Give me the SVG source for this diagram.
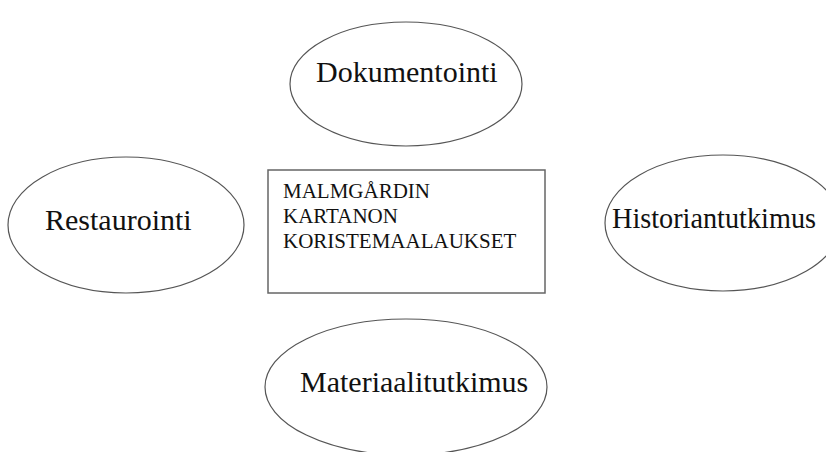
<svg xmlns="http://www.w3.org/2000/svg" width="826" height="452" viewBox="0 0 826 452">
<style>
.n{fill:#fff;stroke:#555;stroke-width:1.2}
.b{fill:#fff;stroke:#666;stroke-width:1.5}
.t{font-family:"Liberation Serif","Times New Roman",serif;fill:#111}
.l{font-size:30px}
.s{font-size:21px}
</style>
<rect width="826" height="452" fill="#fff"/>
<g id="connectors"></g>
<g id="dokumentointi">
<ellipse class="n" cx="406" cy="84" rx="116" ry="62"/>
<text class="t l" x="316" y="82">Dokumentointi</text>
</g>
<g id="restaurointi">
<ellipse class="n" cx="126" cy="225" rx="118" ry="68"/>
<text class="t l" x="45" y="230">Restaurointi</text>
</g>
<g id="historiantutkimus">
<ellipse class="n" cx="723" cy="223" rx="118" ry="68"/>
<text class="t" x="612" y="228" font-size="29" textLength="204" lengthAdjust="spacingAndGlyphs">Historiantutkimus</text>
</g>
<g id="materiaalitutkimus">
<ellipse class="n" cx="406" cy="387" rx="141" ry="68"/>
<text class="t l" x="300" y="392">Materiaalitutkimus</text>
</g>
<g id="center">
<rect class="b" x="268" y="170" width="277" height="123"/>
<text class="t s" x="283" y="198">MALMGÅRDIN</text>
<text class="t s" x="283" y="223">KARTANON</text>
<text class="t s" x="283" y="248">KORISTEMAALAUKSET</text>
</g>
</svg>
